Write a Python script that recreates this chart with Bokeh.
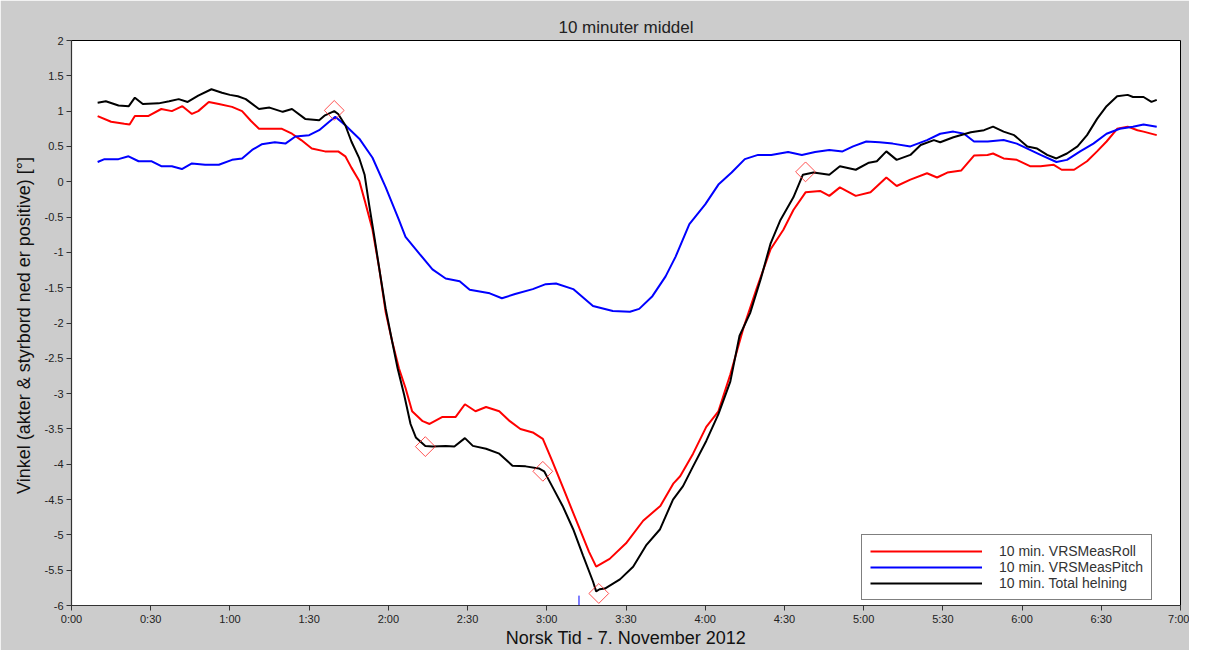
import math
from bokeh.plotting import figure
from bokeh.models import Legend, LegendItem, FixedTicker, ColumnDataSource, Range1d
from bokeh.embed import file_html
from bokeh.resources import INLINE

# ---------------- data (minutes after 0:00, degrees) ----------------
title_text = "10 minuter middel"
x_label_text = "Norsk Tid - 7. November 2012"
y_label_text = "Vinkel (akter & styrbord ned er positive)  [°]"

x_tick_minutes = [0, 30, 60, 90, 120, 150, 180, 210, 240, 270, 300, 330, 360, 390, 420]
x_tick_labels = ["0:00", "0:30", "1:00", "1:30", "2:00", "2:30", "3:00", "3:30",
                 "4:00", "4:30", "5:00", "5:30", "6:00", "6:30", "7:00"]
y_ticks = [2, 1.5, 1, 0.5, 0, -0.5, -1, -1.5, -2, -2.5, -3, -3.5, -4, -4.5, -5, -5.5, -6]
y_tick_labels = ["2", "1.5", "1", "0.5", "0", "-0.5", "-1", "-1.5", "-2", "-2.5", "-3",
                 "-3.5", "-4", "-4.5", "-5", "-5.5", "-6"]

series_names = ["10 min. VRSMeasRoll", "10 min. VRSMeasPitch", "10 min. Total helning"]
series_colors = ["#ff0000", "#0000ff", "#000000"]

roll_t = [9.9, 15, 20, 22, 24, 29, 34, 38, 42, 45.6, 48, 52, 55.8, 60.8, 64.6, 68, 71, 74.8,
          79.7, 83.5, 87, 91, 96, 101, 103.7, 106, 109, 111, 114, 116.6, 119, 121.5, 124,
          126.5, 129, 133, 135.6, 140.5, 145.5, 149, 153, 157, 162, 166, 170, 174.7, 178.5,
          182, 187, 192.5, 196, 198.7, 203.8, 210, 216.5, 223, 228, 230.5, 235.4, 240.4,
          245, 249.5, 254.4, 259.4, 264.7, 269.6, 273.4, 278, 283.5, 287, 291, 297, 302.6,
          308.6, 312.5, 317.7, 324, 327.8, 331.7, 337, 341.8, 346.9, 349, 353, 358, 363,
          367, 372, 375, 379.7, 384.6, 388.4, 392, 396, 400, 403.7, 406, 411]
roll_v = [0.93, 0.85, 0.82, 0.81, 0.93, 0.93, 1.03, 1.0, 1.07, 0.96, 1.0, 1.13, 1.10, 1.06,
          1.0, 0.86, 0.75, 0.75, 0.75, 0.68, 0.59, 0.47, 0.43, 0.43, 0.36, 0.2, 0.01, -0.26,
          -0.68, -1.24, -1.85, -2.27, -2.64, -2.92, -3.25, -3.39, -3.43, -3.33, -3.33, -3.15,
          -3.25, -3.19, -3.25, -3.39, -3.5, -3.55, -3.64, -3.95, -4.41, -4.92, -5.24, -5.45,
          -5.34, -5.12, -4.8, -4.59, -4.27, -4.17, -3.85, -3.47, -3.25, -2.73, -2.08, -1.52,
          -0.96, -0.68, -0.40, -0.15, -0.13, -0.2, -0.08, -0.2, -0.15, 0.06, -0.06, 0.03,
          0.12, 0.06, 0.13, 0.16, 0.37, 0.38, 0.40, 0.33, 0.31, 0.22, 0.22, 0.24, 0.17, 0.17,
          0.29, 0.43, 0.57, 0.75, 0.78, 0.73, 0.71, 0.66]

pitch_t = [9.9, 12.5, 17.8, 21.6, 25.4, 30.4, 34, 38, 41.8, 45.6, 50.6, 55.8, 60.8, 64.6,
           68.4, 72, 77, 81, 84.8, 90, 93.8, 97.6, 99.9, 103.7, 109, 114, 119, 124, 126.5,
           131.8, 136.7, 141.7, 147, 150.8, 158.4, 163, 168, 174.7, 179.6, 183.5, 190, 197.5,
           205, 211.5, 215, 220, 225, 228.8, 234, 240, 245, 250, 255, 260, 265, 271.4, 276.6,
           281.6, 287, 292, 296, 301, 306, 311, 317.7, 324, 329, 334, 338, 341.8, 347, 353,
           358, 362, 367, 373, 377, 382, 387, 392, 397, 402, 406, 411]
pitch_v = [0.28, 0.32, 0.32, 0.36, 0.29, 0.29, 0.22, 0.22, 0.18, 0.26, 0.24, 0.24, 0.31, 0.33,
           0.45, 0.53, 0.56, 0.54, 0.64, 0.66, 0.73, 0.85, 0.92, 0.80, 0.61, 0.34, -0.08,
           -0.54, -0.78, -1.02, -1.24, -1.37, -1.41, -1.53, -1.58, -1.65, -1.59, -1.52, -1.45,
           -1.44, -1.52, -1.76, -1.83, -1.84, -1.8, -1.62, -1.34, -1.06, -0.6, -0.32, -0.04,
           0.13, 0.32, 0.38, 0.38, 0.42, 0.38, 0.42, 0.45, 0.43, 0.50, 0.57, 0.56, 0.54, 0.50,
           0.59, 0.68, 0.71, 0.68, 0.57, 0.57, 0.59, 0.54, 0.47, 0.38, 0.28, 0.31, 0.43, 0.54,
           0.68, 0.75, 0.78, 0.81, 0.78]

total_t = [9.9, 13, 17.8, 21.7, 24, 27, 33, 37, 40.6, 44, 48, 53, 57, 60, 63, 66, 71, 75, 80,
           83.5, 88.5, 93.8, 96, 99.5, 101, 103.7, 106, 109, 111, 112.7, 114.7, 116.6, 119,
           121, 123.5, 126, 128.4, 130.4, 134, 136.7, 141.7, 145, 149, 152, 157, 162, 167,
           172, 177, 179, 182, 186, 190, 193.7, 197.5, 198.7, 200, 202, 207.7, 212.7, 217.6,
           222.9, 227.8, 231.6, 235.4, 240.4, 245, 249.5, 253, 257, 261, 264.7, 268.5, 273.4,
           277, 281, 287, 291, 297, 302, 305, 308.6, 312.5, 317.7, 321.6, 326.6, 329, 334,
           340.6, 345.6, 349, 353, 357, 362, 365.7, 369.5, 373, 377, 381, 384.6, 388.4, 392,
           396, 400, 402, 406, 409, 411]
total_v = [1.12, 1.14, 1.08, 1.07, 1.19, 1.10, 1.11, 1.14, 1.17, 1.13, 1.22, 1.31, 1.26, 1.23,
           1.21, 1.17, 1.03, 1.05, 0.99, 1.03, 0.89, 0.87, 0.94, 1.0, 0.96, 0.80, 0.57, 0.33,
           0.10, -0.32, -0.78, -1.24, -1.8, -2.18, -2.64, -3.02, -3.43, -3.62, -3.74, -3.75,
           -3.74, -3.75, -3.63, -3.74, -3.78, -3.85, -4.02, -4.03, -4.06, -4.1, -4.31, -4.59,
           -4.92, -5.29, -5.66, -5.80, -5.77, -5.76, -5.63, -5.45, -5.15, -4.92, -4.5, -4.31,
           -4.03, -3.67, -3.29, -2.83, -2.18, -1.86, -1.38, -0.88, -0.54, -0.22, 0.10, 0.13,
           0.10, 0.22, 0.17, 0.27, 0.29, 0.43, 0.31, 0.38, 0.52, 0.59, 0.56, 0.63, 0.70, 0.73,
           0.78, 0.71, 0.66, 0.50, 0.47, 0.38, 0.33, 0.40, 0.50, 0.66, 0.89, 1.07, 1.21, 1.23,
           1.20, 1.20, 1.13, 1.16]

marker_t = [99.5, 134, 178.5, 199.7, 278]
marker_v = [1.01, -3.75, -4.10, -5.83, 0.14]

event_t = [192.2]
event_top = [-5.86]

# ---------------- figure ----------------
FONT = "Liberation Sans"

p = figure(width=1189, height=650, output_backend="svg", toolbar_location=None,
           title=title_text, x_range=Range1d(0, 420), y_range=Range1d(-6, 2),
           min_border_left=71, min_border_right=9, min_border_top=40, min_border_bottom=38)
p.border_fill_color = "#cccccc"
p.background_fill_color = "white"
p.outline_line_color = "black"
p.outline_line_width = 1
p.xgrid.visible = False
p.ygrid.visible = False

p.title.align = "center"
p.title.text_font = FONT
p.title.text_font_size = "17px"
p.title.text_font_style = "normal"
p.title.text_color = "#222222"
p.title.standoff = 8

for ax in (p.xaxis[0], p.yaxis[0]):
    ax.axis_line_color = "#333333"
    ax.axis_line_width = 1.2
    ax.major_tick_line_color = "#333333"
    ax.major_tick_out = 5
    ax.major_tick_in = 0
    ax.minor_tick_line_color = None
    ax.major_label_text_font = FONT
    ax.major_label_text_font_size = "11px"
    ax.major_label_text_color = "#222222"
    ax.axis_label_text_font = FONT
    ax.axis_label_text_font_size = "18px"
    ax.axis_label_text_font_style = "normal"
    ax.axis_label_text_color = "#111111"

p.xaxis.ticker = FixedTicker(ticks=x_tick_minutes)
p.xaxis.major_label_overrides = dict(zip(x_tick_minutes, x_tick_labels))
p.xaxis.major_label_standoff = 2
p.xaxis.axis_label = x_label_text
p.xaxis.axis_label_standoff = 0

p.yaxis.ticker = FixedTicker(ticks=y_ticks)
p.yaxis.major_label_overrides = dict(zip(y_ticks, y_tick_labels))
p.yaxis.major_label_standoff = 3
p.yaxis.axis_label = y_label_text
p.yaxis.axis_label_standoff = 8

ts = [roll_t, pitch_t, total_t]
vs = [roll_v, pitch_v, total_v]
items = []
for name, col, t, v in zip(series_names, series_colors, ts, vs):
    r = p.line(t, v, line_color=col, line_width=2)
    items.append(LegendItem(label=name, renderers=[r]))

# red diamond markers
p.scatter(marker_t, marker_v, marker="square", angle=math.pi / 4, size=14,
          fill_color=None, line_color="#ff3333", line_width=1, line_alpha=0.85)

# small blue event tick on the time axis
ev = ColumnDataSource(dict(x=event_t, y0=[-6] * len(event_t), y1=event_top))
p.segment(x0="x", y0="y0", x1="x", y1="y1", source=ev, line_color="#0000ff", line_width=1)

legend = Legend(items=items, location=(790, 5))
legend.border_line_color = "black"
legend.border_line_width = 1
legend.background_fill_color = "white"
legend.background_fill_alpha = 1
legend.label_text_font = FONT
legend.label_text_font_size = "14px"
legend.label_text_color = "#333333"
legend.glyph_width = 112
legend.glyph_height = 14
legend.label_height = 14
legend.spacing = 0
legend.padding = 8
legend.label_standoff = 17
legend.margin = 0
p.add_layout(legend)

open("out.html", "w").write(file_html(p, INLINE))
